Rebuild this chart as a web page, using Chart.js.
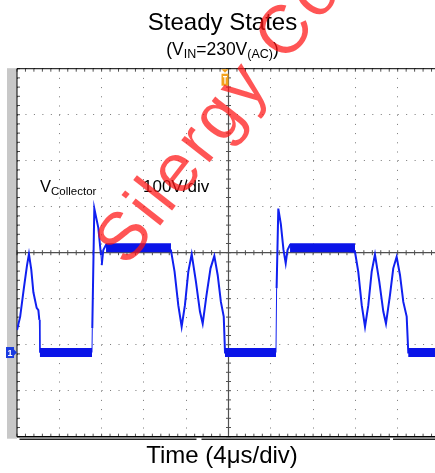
<!DOCTYPE html>
<html>
<head>
<meta charset="utf-8">
<script src="https://cdn.jsdelivr.net/npm/chart.js@4.4.1/dist/chart.umd.min.js"></script>
<style>
  html, body { margin: 0; padding: 0; background: #fff; overflow: hidden; }
  #wrap { position: absolute; left: 0; top: 0; width: 445px; height: 473px; }
</style>
</head>
<body>
<div id="wrap"><canvas id="scope" width="445" height="473"></canvas></div>
<script>
// V collector trace (4us/div, 100V/div, ground = 0V)
const timeUs = [
  0, 0.30, 0.65, 0.95, 1.13, 1.35, 1.55, 1.86, 2.02, 2.11, 2.17,
  7.09, 7.12, 7.31, 7.69, 7.94, 8.01, 8.16, 8.42,
  14.56, 14.90, 15.25, 15.57, 15.88, 16.20, 16.52, 16.92, 17.30, 17.56, 17.92, 18.30, 18.66, 18.98, 19.28, 19.55, 19.67,
  24.49, 24.55, 24.71, 24.95, 25.20, 25.41, 25.58, 25.82,
  31.96, 32.27, 32.60, 32.91, 33.22, 33.54, 33.85, 34.26, 34.64, 34.89, 35.27, 35.58, 35.90, 36.22, 36.53, 36.85, 37.00,
  40
];
const vCollector = [
  49, 78, 140, 190, 214, 180, 131, 97, 92, 71, 0,
  0, 53, 313, 271, 212, 190, 223, 234,
  222, 176, 103, 56, 103, 176, 214, 154, 89, 63, 125, 183, 210, 168, 110, 78, 0,
  0, 140, 313, 279, 223, 194, 223, 234,
  219, 176, 103, 56, 103, 176, 213, 154, 89, 63, 125, 183, 208, 168, 110, 78, 0,
  0
];

// flat parts of the trace that show up as a thick noise band
const lowSpans = [[2.17, 7.09], [19.67, 24.49], [37.00, 40]];
const lowLevel = 0;
const plateauSpans = [[8.42, 14.56], [25.82, 31.96]];
const plateauLevel = 228;

// graticule: 10 x 4us, 8 x 100V, screen centre sits at 217V
const timeTicks = [0, 4, 8, 12, 16, 20, 24, 28, 32, 36, 40];
const voltTicks = [-183, -83, 17, 117, 217, 317, 417, 517, 617];

const FONT = "'Liberation Sans', Arial, sans-serif";

function spanPoints(spans, level) {
  const pts = [];
  spans.forEach(([a, b]) => {
    pts.push({ x: a, y: level }, { x: b, y: level }, { x: b, y: null });
  });
  return pts;
}

// text with subscript pieces, centred or left aligned
function drawRich(ctx, parts, x, y, align) {
  let w = 0;
  parts.forEach(p => {
    ctx.font = p.size + 'px ' + FONT;
    w += ctx.measureText(p.t).width;
  });
  let cx = align === 'center' ? x - w / 2 : x;
  ctx.textAlign = 'left';
  ctx.textBaseline = 'alphabetic';
  parts.forEach(p => {
    ctx.font = p.size + 'px ' + FONT;
    ctx.fillText(p.t, cx, y + (p.dy || 0));
    cx += ctx.measureText(p.t).width;
  });
}

const scopeFrame = {
  id: 'scopeFrame',
  beforeDatasetsDraw(chart) {
    const { ctx, chartArea: a, scales: { x, y } } = chart;
    const W = chart.width;
    const cx = x.getPixelForValue(20);
    const cy = y.getPixelForValue(217);
    const dx = (x.getPixelForValue(4) - x.getPixelForValue(0)) / 5;
    const dy = (y.getPixelForValue(17) - y.getPixelForValue(117)) / 5;
    ctx.save();

    // grey strip on the left
    ctx.fillStyle = '#c8c8c8';
    ctx.fillRect(7, a.top - 0.5, a.left - 7, a.bottom - a.top + 2.5);

    // centre cross
    ctx.strokeStyle = '#505050';
    ctx.lineWidth = 1.2;
    ctx.beginPath();
    ctx.moveTo(a.left, cy); ctx.lineTo(W, cy);
    ctx.moveTo(cx, a.top); ctx.lineTo(cx, a.bottom);
    ctx.stroke();

    ctx.lineWidth = 1;
    ctx.beginPath();
    for (let px = a.left; px <= W; px += dx) {
      ctx.moveTo(px, cy - 2.5); ctx.lineTo(px, cy + 2.5);
      ctx.moveTo(px, a.top); ctx.lineTo(px, a.top + 3);
      ctx.moveTo(px, a.bottom); ctx.lineTo(px, a.bottom - 3);
    }
    for (let py = a.top; py <= a.bottom + 0.5; py += dy) {
      ctx.moveTo(cx - 2.5, py); ctx.lineTo(cx + 2.5, py);
      ctx.moveTo(a.left, py); ctx.lineTo(a.left + 3, py);
    }
    ctx.stroke();

    // frame
    ctx.strokeStyle = '#000';
    ctx.beginPath();
    ctx.moveTo(a.left, a.top); ctx.lineTo(W, a.top);
    ctx.moveTo(a.left, a.top); ctx.lineTo(a.left, a.bottom);
    ctx.stroke();
    ctx.lineWidth = 1.5;
    ctx.beginPath();
    ctx.moveTo(a.left, a.bottom); ctx.lineTo(W, a.bottom);
    ctx.stroke();
    ctx.strokeStyle = '#222';
    ctx.beginPath();
    ctx.moveTo(19.5, a.bottom + 2.5); ctx.lineTo(196.5, a.bottom + 2.5);
    ctx.moveTo(201.5, a.bottom + 2.5); ctx.lineTo(390, a.bottom + 2.5);
    ctx.moveTo(393, a.bottom + 2.5); ctx.lineTo(W, a.bottom + 2.5);
    ctx.stroke();

    // trigger marker
    ctx.fillStyle = '#f3a21c';
    ctx.beginPath();
    ctx.moveTo(221.5, a.top + 0.5); ctx.lineTo(228.5, a.top + 0.5); ctx.lineTo(225, a.top + 4);
    ctx.closePath(); ctx.fill();
    ctx.fillRect(221.5, a.top + 5, 7, 12);
    ctx.strokeStyle = '#fff';
    ctx.lineWidth = 1.2;
    ctx.beginPath();
    ctx.moveTo(223, a.top + 8); ctx.lineTo(227, a.top + 8);
    ctx.moveTo(225, a.top + 8); ctx.lineTo(225, a.top + 15);
    ctx.stroke();

    // channel 1 ground marker
    const gy = y.getPixelForValue(0);
    ctx.fillStyle = '#1a3be0';
    ctx.fillRect(6, gy - 5.5, 8, 11);
    ctx.beginPath();
    ctx.moveTo(14, gy - 3); ctx.lineTo(17, gy); ctx.lineTo(14, gy + 3);
    ctx.closePath(); ctx.fill();
    ctx.fillStyle = '#fff';
    ctx.font = 'bold 9px ' + FONT;
    ctx.textAlign = 'center';
    ctx.textBaseline = 'middle';
    ctx.fillText('1', 10, gy + 0.5);
    ctx.restore();
  },
  afterDatasetsDraw(chart) {
    const { ctx } = chart;
    ctx.save();
    ctx.fillStyle = '#000';
    ctx.font = '24px ' + FONT;
    ctx.textAlign = 'center';
    ctx.fillText('Steady States', 222.5, 29.5);
    drawRich(ctx, [
      { t: '(V', size: 17.5 }, { t: 'IN', size: 12.5, dy: 3 },
      { t: '=230V', size: 17.5 }, { t: '(AC)', size: 12.5, dy: 3.5 }, { t: ')', size: 17.5 }
    ], 222.5, 54.5, 'center');
    drawRich(ctx, [{ t: 'V', size: 16.5 }, { t: 'Collector', size: 11.5, dy: 3.5 }], 40, 191.5, 'left');
    drawRich(ctx, [{ t: '100V/div', size: 17 }], 143, 191.5, 'left');
    ctx.font = '24px ' + FONT;
    ctx.textAlign = 'center';
    ctx.fillText('Time (4\u03bcs/div)', 222, 463);

    // watermark
    ctx.translate(127, 268);
    ctx.rotate(-52 * Math.PI / 180);
    ctx.fillStyle = 'rgba(255, 20, 20, 0.72)';
    ctx.font = '68px ' + FONT;
    ctx.letterSpacing = '4px';
    ctx.textAlign = 'left';
    ctx.fillText('Silergy Confidential', 0, 0);
    ctx.restore();
  }
};

const trace = timeUs.map((t, i) => ({ x: t, y: vCollector[i] }));

new Chart(document.getElementById('scope'), {
  type: 'line',
  data: {
    datasets: [
      {
        data: spanPoints(lowSpans, lowLevel).concat(spanPoints(plateauSpans, plateauLevel)),
        borderColor: '#0a14e8',
        borderWidth: 9,
        borderCapStyle: 'butt',
        pointRadius: 0,
        spanGaps: false,
      },
      {
        data: trace,
        borderColor: '#1020f0',
        borderWidth: 2,
        pointRadius: 0,
        segment: {
          borderWidth: c => Math.abs(c.p1.parsed.x - c.p0.parsed.x) < 0.08 ? 1 : 2,
        },
      },
    ],
  },
  plugins: [scopeFrame],
  options: {
    responsive: false,
    animation: false,
    layout: { padding: { left: 17, top: 68.7, right: 5, bottom: 36.3 } },
    plugins: { legend: { display: false }, tooltip: { enabled: false } },
    scales: {
      x: {
        type: 'linear',
        min: 0,
        max: 40,
        afterBuildTicks: s => { s.ticks = timeTicks.map(v => ({ value: v })); },
        afterFit: s => { s.height = 0; },
        ticks: { display: false },
        grid: { color: '#777', lineWidth: 1, drawTicks: false },
        border: { display: false, dash: [1, 8.2] },
      },
      y: {
        type: 'linear',
        min: -183,
        max: 617,
        afterBuildTicks: s => { s.ticks = voltTicks.map(v => ({ value: v })); },
        afterFit: s => { s.width = 0; },
        ticks: { display: false },
        grid: { color: '#777', lineWidth: 1, drawTicks: false },
        border: { display: false, dash: [1, 7.46] },
      },
    },
  },
});
</script>
</body>
</html>
